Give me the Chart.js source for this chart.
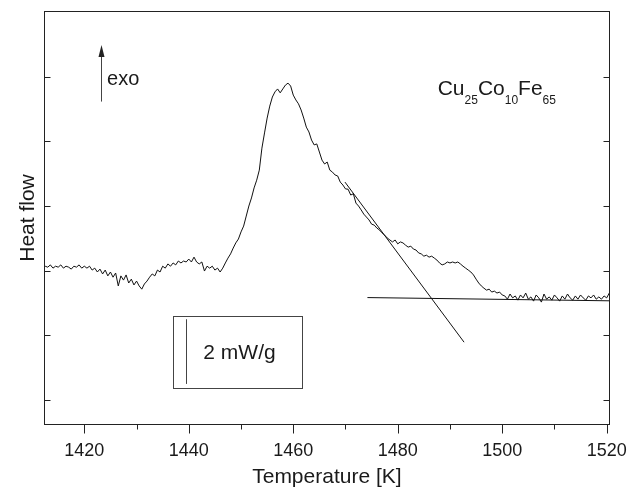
<!DOCTYPE html>
<html>
<head>
<meta charset="utf-8">
<script src="https://cdn.jsdelivr.net/npm/chart.js@4/dist/chart.umd.min.js"></script>
<style>
  html, body { margin: 0; padding: 0; background: #fff; }
  #wrap { width: 632px; height: 488px; }
</style>
</head>
<body>
<div id="wrap"><canvas id="dscChart" width="632" height="488"></canvas></div>
<script>
// DSC trace, temperature in K, heat flow in mW/g (offset arbitrary)
const temps = [
  1412.5, 1413, 1413.5, 1414, 1414.5, 1415, 1415.5, 1416, 1416.5, 1417,
  1417.5, 1418, 1418.5, 1419, 1419.5, 1420, 1420.5, 1421, 1421.5, 1422,
  1422.5, 1423, 1423.5, 1424, 1424.5, 1425, 1425.5, 1426, 1426.5, 1427,
  1427.5, 1428, 1428.5, 1429, 1429.5, 1430, 1430.5, 1431, 1431.5, 1432,
  1432.5, 1433, 1433.5, 1434, 1434.5, 1435, 1435.5, 1436, 1436.5, 1437,
  1437.5, 1438, 1438.5, 1439, 1439.5, 1440, 1440.5, 1441, 1441.5, 1442,
  1442.5, 1443, 1443.5, 1444, 1444.5, 1445, 1445.5, 1446, 1446.5, 1447,
  1447.5, 1448, 1448.5, 1449, 1449.5, 1450, 1450.5, 1451, 1451.5, 1452,
  1452.5, 1453, 1453.5, 1454, 1454.5, 1455, 1455.5, 1456, 1456.5, 1457,
  1457.5, 1458, 1458.5, 1459, 1459.5, 1460, 1460.5, 1461, 1461.5, 1462,
  1462.5, 1463, 1463.5, 1464, 1464.5, 1465, 1465.5, 1466, 1466.5, 1467,
  1467.5, 1468, 1468.5, 1469, 1469.5, 1470, 1470.5, 1471, 1471.5, 1472,
  1472.5, 1473, 1473.5, 1474, 1474.5, 1475, 1475.5, 1476, 1476.5, 1477,
  1477.5, 1478, 1478.5, 1479, 1479.5, 1480, 1480.5, 1481, 1481.5, 1482,
  1482.5, 1483, 1483.5, 1484, 1484.5, 1485, 1485.5, 1486, 1486.5, 1487,
  1487.5, 1488, 1488.5, 1489, 1489.5, 1490, 1490.5, 1491, 1491.5, 1492,
  1492.5, 1493, 1493.5, 1494, 1494.5, 1495, 1495.5, 1496, 1496.5, 1497,
  1497.5, 1498, 1498.5, 1499, 1499.5, 1500, 1500.5, 1501, 1501.5, 1502,
  1502.5, 1503, 1503.5, 1504, 1504.5, 1505, 1505.5, 1506, 1506.5, 1507,
  1507.5, 1508, 1508.5, 1509, 1509.5, 1510, 1510.5, 1511, 1511.5, 1512,
  1512.5, 1513, 1513.5, 1514, 1514.5, 1515, 1515.5, 1516, 1516.5, 1517,
  1517.5, 1518, 1518.5, 1519, 1519.5, 1520, 1520.5
];
const heatFlow = [
  4.14, 4.11, 4.18, 4.08, 4.14, 4.11, 4.18, 4.08, 4.14, 4.11,
  4.05, 4.14, 4.11, 4.18, 4.08, 4.14, 4.08, 4.14, 4.02, 4.08,
  3.96, 4.05, 3.90, 4.02, 3.84, 3.96, 3.80, 3.93, 3.53, 3.84,
  3.71, 3.87, 3.62, 3.74, 3.56, 3.68, 3.53, 3.43, 3.59, 3.68,
  3.80, 3.90, 3.84, 4.02, 3.96, 4.14, 4.08, 4.21, 4.14, 4.24,
  4.18, 4.30, 4.24, 4.30, 4.27, 4.36, 4.27, 4.42, 4.27, 4.21,
  4.27, 3.99, 4.14, 4.08, 4.14, 4.02, 4.08, 3.96, 4.08, 4.24,
  4.39, 4.52, 4.70, 4.86, 4.98, 5.20, 5.38, 5.69, 6.00, 6.25,
  6.56, 6.80, 7.11, 7.79, 8.26, 8.72, 9.09, 9.37, 9.53, 9.62,
  9.50, 9.62, 9.74, 9.80, 9.71, 9.43, 9.28, 9.16, 8.97, 8.72,
  8.44, 8.29, 8.04, 7.89, 7.92, 7.67, 7.42, 7.30, 7.36, 7.11,
  7.05, 6.96, 6.93, 6.74, 6.65, 6.53, 6.52, 6.34, 6.38, 6.09,
  6.00, 5.88, 5.75, 5.66, 5.57, 5.44, 5.41, 5.32, 5.26, 5.17,
  5.10, 5.01, 4.95, 4.89, 4.95, 4.83, 4.89, 4.86, 4.79, 4.73,
  4.76, 4.67, 4.64, 4.55, 4.52, 4.45, 4.48, 4.42, 4.45, 4.39,
  4.33, 4.24, 4.18, 4.21, 4.27, 4.24, 4.27, 4.24, 4.27, 4.21,
  4.14, 4.08, 4.02, 3.96, 3.87, 3.74, 3.62, 3.53, 3.46, 3.40,
  3.43, 3.34, 3.37, 3.31, 3.34, 3.25, 3.22, 3.12, 3.28, 3.16,
  3.22, 3.09, 3.25, 3.16, 3.31, 3.12, 3.19, 3.06, 3.25, 3.16,
  3.03, 3.28, 3.12, 3.19, 3.09, 3.25, 3.16, 3.06, 3.22, 3.12,
  3.28, 3.16, 3.09, 3.22, 3.12, 3.25, 3.16, 3.09, 3.22, 3.16,
  3.25, 3.12, 3.19, 3.12, 3.22, 3.16, 3.31
];

// construction lines for the onset
const tangentT = [1469.9, 1492.7];
const tangentV = [6.74, 1.79];
const baseT = [1474.2, 1520.5];
const baseV = [3.17, 3.07];

const xTickValues = [1420, 1440, 1460, 1480, 1500, 1520];
const xMinorValues = [1430, 1450, 1470, 1490, 1510];
const yTickValues = [0, 2, 4, 6, 8, 10];

const FONT = "'Liberation Sans', Arial, Helvetica, sans-serif";
const INK = '#1a1a1a';

const toPoints = (xs, ys) => xs.map((x, i) => ({ x: x, y: ys[i] }));

// frame, tick marks and the annotations (exo arrow, alloy label, scale bar)
const decorPlugin = {
  id: 'decor',
  afterDraw(chart) {
    const { ctx, chartArea: a, scales: { x, y } } = chart;
    ctx.save();
    ctx.strokeStyle = '#222';
    ctx.lineWidth = 1;
    const L = Math.round(a.left) + 0.5, R = Math.round(a.right) - 0.5;
    const T = Math.round(a.top) + 0.5, B = Math.round(a.bottom) - 0.5;
    ctx.strokeRect(L, T, R - L, B - T);

    ctx.beginPath();
    xTickValues.forEach(v => {
      const px = Math.round(x.getPixelForValue(v)) + 0.5;
      ctx.moveTo(px, B); ctx.lineTo(px, B + 9);
    });
    xMinorValues.forEach(v => {
      const px = Math.round(x.getPixelForValue(v)) + 0.5;
      ctx.moveTo(px, B); ctx.lineTo(px, B + 5);
    });
    yTickValues.forEach(v => {
      const py = Math.round(y.getPixelForValue(v)) + 0.5;
      ctx.moveTo(L, py); ctx.lineTo(L + 6, py);
      ctx.moveTo(R, py); ctx.lineTo(R - 6, py);
    });
    ctx.stroke();

    // exo arrow
    const ax = Math.round(x.getPixelForValue(1423.14)) + 0.5;
    const aBot = y.getPixelForValue(9.23);
    const aTip = y.getPixelForValue(10.98);
    ctx.strokeStyle = '#444';
    ctx.beginPath();
    ctx.moveTo(ax, aBot); ctx.lineTo(ax, aTip + 10);
    ctx.stroke();
    ctx.fillStyle = '#222';
    ctx.beginPath();
    ctx.moveTo(ax, aTip);
    ctx.lineTo(ax - 3, aTip + 12);
    ctx.lineTo(ax + 3, aTip + 12);
    ctx.closePath();
    ctx.fill();

    ctx.fillStyle = INK;
    ctx.textBaseline = 'alphabetic';
    ctx.textAlign = 'left';
    ctx.font = '20px ' + FONT;
    ctx.fillText('exo', x.getPixelForValue(1424.35), y.getPixelForValue(9.74));

    // alloy composition with subscripts
    const parts = [['Cu', '25'], ['Co', '10'], ['Fe', '65']];
    let cx = x.getPixelForValue(1487.65);
    const base = y.getPixelForValue(9.42);
    parts.forEach(([el, sub]) => {
      ctx.font = '21px ' + FONT;
      ctx.fillText(el, cx, base);
      cx += ctx.measureText(el).width;
      ctx.font = '12px ' + FONT;
      ctx.fillText(sub, cx, base + 8.5);
      cx += ctx.measureText(sub).width;
    });

    // scale bar box
    const bx1 = Math.round(x.getPixelForValue(1436.92)) + 0.5;
    const bx2 = Math.round(x.getPixelForValue(1461.62)) + 0.5;
    const by1 = Math.round(y.getPixelForValue(2.61)) + 0.5;
    const by2 = Math.round(y.getPixelForValue(0.38)) + 0.5;
    ctx.strokeStyle = '#444';
    ctx.strokeRect(bx1, by1, bx2 - bx1, by2 - by1);
    const lx = Math.round(x.getPixelForValue(1439.41)) + 0.5;
    ctx.beginPath();
    ctx.moveTo(lx, y.getPixelForValue(2.5));
    ctx.lineTo(lx, y.getPixelForValue(0.5));
    ctx.stroke();
    ctx.font = '21px ' + FONT;
    ctx.fillText('2 mW/g', x.getPixelForValue(1442.78), y.getPixelForValue(1.26));
    ctx.restore();
  }
};

const ctx = document.getElementById('dscChart').getContext('2d');
new Chart(ctx, {
  type: 'line',
  data: {
    datasets: [
      { data: toPoints(temps, heatFlow), borderColor: '#111', borderWidth: 1, pointRadius: 0, tension: 0 },
      { data: toPoints(tangentT, tangentV), borderColor: '#111', borderWidth: 1, pointRadius: 0 },
      { data: toPoints(baseT, baseV), borderColor: '#111', borderWidth: 1, pointRadius: 0 }
    ]
  },
  options: {
    responsive: false,
    animation: false,
    devicePixelRatio: 1,
    layout: { padding: { top: 11, right: 22.5, left: 0, bottom: 0 } },
    plugins: { legend: { display: false }, tooltip: { enabled: false } },
    scales: {
      x: {
        type: 'linear',
        min: 1412.34,
        max: 1520.54,
        grid: { display: false, drawTicks: false },
        border: { display: false },
        afterBuildTicks: s => { s.ticks = xTickValues.map(v => ({ value: v })); },
        afterFit: s => { s.height = 63; s.paddingLeft = 0; s.paddingRight = 0; },
        ticks: {
          color: INK, font: { family: FONT, size: 18 }, padding: 15, maxRotation: 0, autoSkip: false,
          callback: v => String(v)
        },
        title: { display: true, text: 'Temperature [K]', color: INK, font: { family: FONT, size: 21, lineHeight: 1 }, padding: { top: 0, bottom: 0 } }
      },
      y: {
        type: 'linear',
        min: -0.77,
        max: 12.03,
        grid: { display: false, drawTicks: false },
        border: { display: false },
        afterBuildTicks: s => { s.ticks = yTickValues.map(v => ({ value: v })); },
        afterFit: s => { s.width = 44.3; s.paddingTop = 0; s.paddingBottom = 0; },
        ticks: { display: false },
        title: { display: true, text: 'Heat flow', color: INK, font: { family: FONT, size: 21, lineHeight: 1 }, padding: { top: 18, bottom: 0 } }
      }
    }
  },
  plugins: [decorPlugin]
});
</script>
</body>
</html>
